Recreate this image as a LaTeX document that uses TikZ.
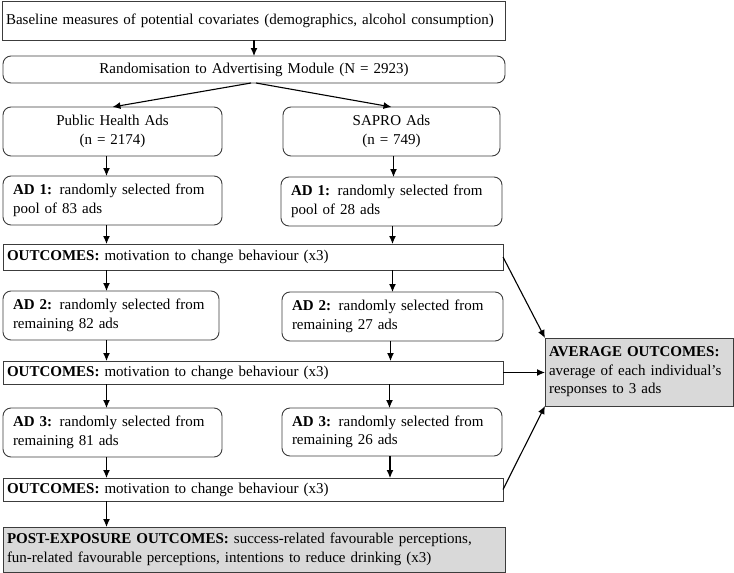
\documentclass[tikz,border=0pt]{standalone}
\usepackage{fontspec}
\setmainfont{Liberation Serif}
\usetikzlibrary{arrows.meta}

\definecolor{boxgray}{RGB}{217,217,217}
\definecolor{edgegray}{RGB}{60,60,60}

\tikzset{
  box/.style={draw=edgegray,line width=0.9pt,anchor=north west,inner xsep=4pt,inner ysep=0pt,outer sep=0pt,align=left},
  roundbox/.style={box,rounded corners=8pt,inner xsep=10pt},
  centerbox/.style={box,rounded corners=8pt,align=center},
  graybox/.style={box,fill=boxgray},
  arr/.style={-{Latex[length=8pt,width=7pt]},line width=1.1pt}
}

\begin{document}
\begin{tikzpicture}[x=1pt,y=-1pt,font=\fontsize{15}{18.5}\selectfont]
\useasboundingbox (0,0) rectangle (734,573);

% Baseline and randomisation
\node[box,text width=495pt,minimum height=39pt] (base) at (2,1) {Baseline measures of potential covariates (demographics, alcohol consumption)};
\node[centerbox,text width=494pt,minimum height=27pt] (rand) at (3,56) {Randomisation to Advertising Module (N = 2923)};

% Groups
\node[centerbox,text width=211pt,minimum height=49pt] (ph) at (3,107) {Public Health Ads\\(n = 2174)};
\node[centerbox,text width=209pt,minimum height=49pt] (sapro) at (283,107) {SAPRO Ads\\(n = 749)};

% Ad 1
\node[roundbox,text width=199pt,minimum height=49pt] (adAl) at (3,176) {\textbf{AD 1:} randomly selected from\\pool of 83 ads};
\node[roundbox,text width=201pt,minimum height=49pt] (adAr) at (281,177) {\textbf{AD 1:} randomly selected from\\pool of 28 ads};
\node[box,text width=492pt,minimum height=26pt] (outA) at (3,244) {\textbf{OUTCOMES:} motivation to change behaviour (x3)};

% Ad 2
\node[roundbox,text width=196pt,minimum height=49pt] (adBl) at (3,291) {\textbf{AD 2:} randomly selected from\\remaining 82 ads};
\node[roundbox,text width=201pt,minimum height=49pt] (adBr) at (282,292) {\textbf{AD 2:} randomly selected from\\remaining 27 ads};
\node[box,text width=492pt,minimum height=23pt] (outB) at (3,361) {\textbf{OUTCOMES:} motivation to change behaviour (x3)};

% Ad 3
\node[roundbox,text width=199pt,minimum height=49pt] (adCl) at (3,408) {\textbf{AD 3:} randomly selected from\\remaining 81 ads};
\node[roundbox,text width=200pt,minimum height=48pt] (adCr) at (282,408) {\textbf{AD 3:} randomly selected from\\remaining 26 ads};
\node[box,text width=492pt,minimum height=23pt] (outC) at (3,478) {\textbf{OUTCOMES:} motivation to change behaviour (x3)};

% Final outcomes
\node[graybox,text width=494pt,minimum height=45pt] (post) at (3,527) {\textbf{POST-EXPOSURE OUTCOMES:} success-related favourable perceptions,\\fun-related favourable perceptions, intentions to reduce drinking (x3)};
\node[graybox,text width=180pt,minimum height=68pt] (avg) at (545,338) {\textbf{AVERAGE OUTCOMES:}\\average of each individual's\\responses to 3 ads};

% Arrows
\draw[arr] (base.south -| rand.south) -- (rand.north);
\draw[arr] ([xshift=-3pt]rand.south) -- (ph.north);
\draw[arr] ([xshift=2pt]rand.south) -- (sapro.north);
\draw[arr] ([xshift=-6pt]ph.south) -- ([xshift=-6pt]adAl.north);
\draw[arr] ([xshift=2pt]sapro.south) -- ([xshift=2pt]sapro.south |- adAr.north);
\draw[arr] ([xshift=-6pt]adAl.south) -- ([xshift=-6pt]adAl.south |- outA.north);
\draw[arr] ([xshift=1pt]adAr.south) -- ([xshift=1pt]adAr.south |- outA.north);
\draw[arr] ([xshift=-6pt]ph.south |- outA.south) -- ([xshift=-6pt]ph.south |- adBl.north);
\draw[arr] ([xshift=1pt]adAr.south |- outA.south) -- ([xshift=1pt]adAr.south |- adBr.north);
\draw[arr] ([xshift=-6pt]ph.south |- adBl.south) -- ([xshift=-6pt]ph.south |- outB.north);
\draw[arr] ([xshift=-2pt]adBr.south) -- ([xshift=-2pt]adBr.south |- outB.north);
\draw[arr] ([xshift=-6pt]ph.south |- outB.south) -- ([xshift=-6pt]ph.south |- adCl.north);
\draw[arr] ([xshift=-3pt]adBr.south |- outB.south) -- ([xshift=-3pt]adBr.south |- adCr.north);
\draw[arr] ([xshift=-6pt]ph.south |- adCl.south) -- ([xshift=-6pt]ph.south |- outC.north);
\draw[arr] ([xshift=-2pt]adCr.south) -- ([xshift=-2pt]adCr.south |- outC.north);
\draw[arr] ([xshift=-6pt]ph.south |- outC.south) -- ([xshift=-6pt]ph.south |- post.north);
\draw[arr] (outA.east) -- (avg.north west);
\draw[arr] (outB.east) -- (avg.west |- outB.east);
\draw[arr] (outC.east) -- (avg.south west);
\end{tikzpicture}
\end{document}
